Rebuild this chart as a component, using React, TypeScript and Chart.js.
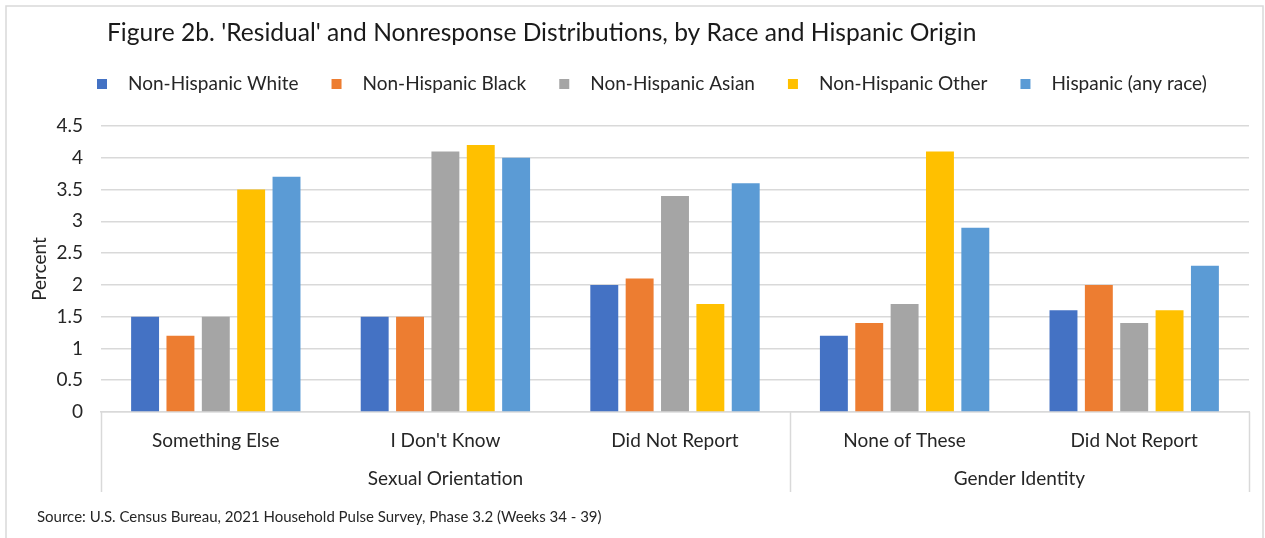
import React, { useEffect, useRef } from "react";
import { Chart, registerables } from "chart.js";

Chart.register(...registerables);

const FONT = "Lato, 'Open Sans', 'Noto Sans', sans-serif";
const TEXT = "#262626";
const LINE = "#d9d9d9";

const titleText = "Figure 2b. 'Residual' and Nonresponse Distributions, by Race and Hispanic Origin";
const sourceText = "Source: U.S. Census Bureau, 2021 Household Pulse Survey, Phase 3.2 (Weeks 34 - 39)";

const categories = ["Something Else", "I Don't Know", "Did Not Report", "None of These", "Did Not Report"];
const groupLabels = ["Sexual Orientation", "Gender Identity"];
const groupStarts = [0, 3];
const groupEnds = [2, 4];

const seriesNames = [
  "Non-Hispanic White",
  "Non-Hispanic Black",
  "Non-Hispanic Asian",
  "Non-Hispanic Other",
  "Hispanic (any race)",
];
const seriesColors = ["#4472C4", "#ED7D31", "#A5A5A5", "#FFC000", "#5B9BD5"];

const nhWhite = [1.5, 1.5, 2.0, 1.2, 1.6];
const nhBlack = [1.2, 1.5, 2.1, 1.4, 2.0];
const nhAsian = [1.5, 4.1, 3.4, 1.7, 1.4];
const nhOther = [3.5, 4.2, 1.7, 4.1, 1.6];
const hispanic = [3.7, 4.0, 3.6, 2.9, 2.3];

const yTickValues = [0, 0.5, 1, 1.5, 2, 2.5, 3, 3.5, 4, 4.5];

const seriesValues = [nhWhite, nhBlack, nhAsian, nhOther, hispanic];

const AXIS_SIZE = 19;

// Title, custom legend, source note, frame, and the two-level category axis
const decorations = {
  id: "decorations",
  beforeDraw(chart: any) {
    const ctx = chart.ctx;
    ctx.save();
    ctx.fillStyle = "#ffffff";
    ctx.fillRect(0, 0, chart.width, chart.height);
    ctx.strokeStyle = LINE;
    ctx.lineWidth = 1.5;
    ctx.strokeRect(6, 6, chart.width - 8, chart.height + 10);
    ctx.restore();
  },
  afterDraw(chart: any) {
    const ctx = chart.ctx;
    const x = chart.scales.x;
    const area = chart.chartArea;
    ctx.save();

    // title
    ctx.fillStyle = "#1a1a1a";
    ctx.textBaseline = "middle";
    ctx.textAlign = "left";
    ctx.font = `24.6px ${FONT}`;
    ctx.fillText(titleText, 107, 33);

    // legend
    ctx.font = `${AXIS_SIZE}px ${FONT}`;
    let lx = 97;
    const ly = 84;
    chart.data.datasets.forEach((ds: any) => {
      ctx.fillStyle = ds.backgroundColor;
      ctx.fillRect(lx, ly - 5, 10, 10);
      ctx.fillStyle = TEXT;
      ctx.fillText(ds.label, lx + 31, ly);
      lx += 31 + ctx.measureText(ds.label).width + 33;
    });

    // source note
    ctx.font = `15px ${FONT}`;
    ctx.fillStyle = TEXT;
    ctx.fillText(sourceText, 37, 517);

    // category separators and group labels
    const n = categories.length;
    const edge = (i: number) => {
      if (i <= 0) return x.left;
      if (i >= n) return x.right;
      return (x.getPixelForValue(i - 1) + x.getPixelForValue(i)) / 2;
    };
    ctx.strokeStyle = LINE;
    ctx.lineWidth = 1.5;
    const bounds = new Set<number>();
    groupStarts.forEach((s, g) => {
      bounds.add(s);
      bounds.add(groupEnds[g] + 1);
    });
    bounds.forEach((b) => {
      const px = Math.round(edge(b)) + 0.5;
      ctx.beginPath();
      ctx.moveTo(px, area.bottom);
      ctx.lineTo(px, 492);
      ctx.stroke();
    });
    ctx.font = `${AXIS_SIZE}px ${FONT}`;
    ctx.fillStyle = TEXT;
    ctx.textAlign = "center";
    groupLabels.forEach((label, g) => {
      const cx = (x.getPixelForValue(groupStarts[g]) + x.getPixelForValue(groupEnds[g])) / 2;
      ctx.fillText(label, cx, 479);
    });
    ctx.restore();
  },
};

export default function App() {
  const ref = useRef<HTMLCanvasElement | null>(null);

  useEffect(() => {
    if (!ref.current) return;
    const chart = new Chart(ref.current, {
      type: "bar",
      data: {
        labels: categories,
        datasets: seriesNames.map((name, i) => ({
          label: name,
          data: seriesValues[i],
          backgroundColor: seriesColors[i],
          borderWidth: 0,
          categoryPercentage: 0.77,
          barPercentage: 0.79,
        })),
      },
      options: {
        responsive: true,
        maintainAspectRatio: false,
        animation: false,
        layout: { padding: { top: 126, right: 16, bottom: 0, left: 0 } },
        plugins: {
          legend: { display: false },
          title: { display: false },
          tooltip: { enabled: false },
        },
        scales: {
          x: {
            grid: { display: false, drawTicks: false },
            border: { display: true, color: LINE, width: 1.5 },
            ticks: {
              color: TEXT,
              font: { family: FONT, size: AXIS_SIZE },
              padding: 17,
              maxRotation: 0,
              autoSkip: false,
            },
            afterFit(scale: any) {
              scale.height = 126;
            },
          },
          y: {
            min: 0,
            max: 4.5,
            afterBuildTicks(scale: any) {
              scale.ticks = yTickValues.map((v) => ({ value: v }));
            },
            grid: { color: LINE, lineWidth: 1.5, drawTicks: false },
            border: { display: false },
            ticks: {
              color: TEXT,
              font: { family: FONT, size: AXIS_SIZE },
              padding: 18,
              callback: (v: any) => String(v),
            },
            title: {
              display: true,
              text: "Percent",
              color: TEXT,
              font: { family: FONT, size: 19 },
              padding: { top: 28, bottom: 0 },
            },
            afterFit(scale: any) {
              scale.width = 101;
            },
          },
        },
      },
      plugins: [decorations],
    });
    return () => chart.destroy();
  }, []);

  return (
    <div style={{ position: "fixed", left: 0, top: 0, width: 1265, height: 538, background: "#fff" }}>
      <canvas ref={ref} />
    </div>
  );
}
